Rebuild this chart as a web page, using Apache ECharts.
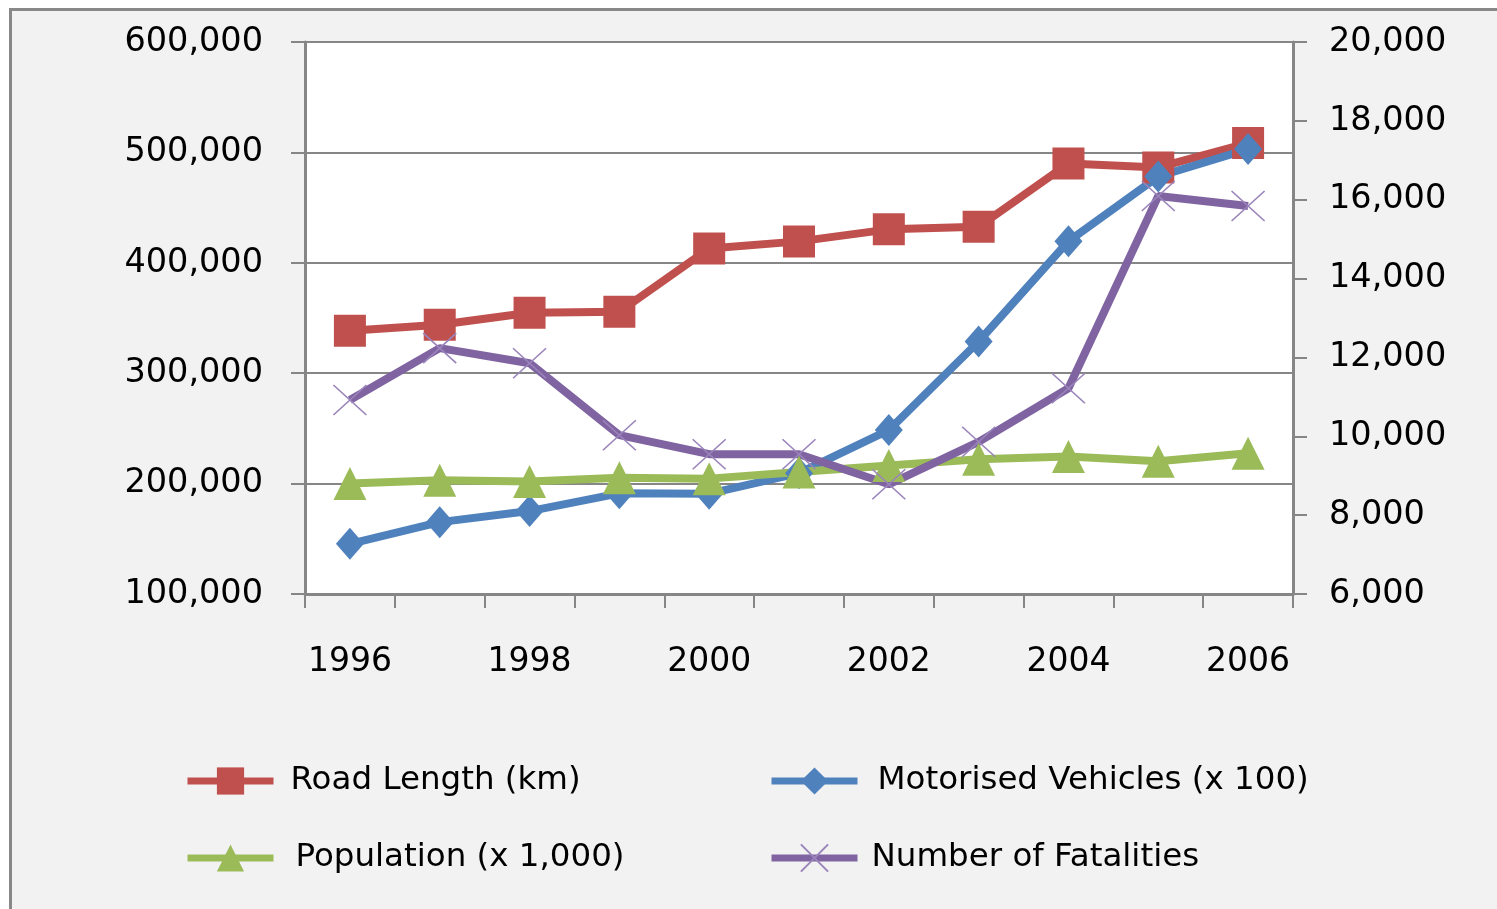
<!DOCTYPE html>
<html>
<head>
<meta charset="utf-8">
<script src="https://cdn.jsdelivr.net/npm/echarts@6/dist/echarts.min.js"></script>
<style>
html,body{margin:0;padding:0;background:#ffffff;}
#chart{width:1497px;height:909px;}
</style>
</head>
<body>
<div id="chart"></div>
<script>
const years = ['1996','1997','1998','1999','2000','2001','2002','2003','2004','2005','2006'];
const roadLength = [338500, 343900, 354800, 355700, 413000, 419400, 430300, 432700, 490000, 486400, 508500];
const motorisedVehicles = [145500, 165100, 175100, 191200, 190900, 209400, 248500, 328700, 419600, 478200, 503000];
const population = [200000, 203000, 202000, 205400, 204500, 210500, 216400, 222100, 224500, 220300, 227500];
const fatalities = [10920, 12236, 11854, 10029, 9546, 9546, 8782, 9859, 11218, 16095, 15840];
const seriesNames = ['Road Length (km)', 'Motorised Vehicles (x 100)', 'Population (x 1,000)', 'Number of Fatalities'];

const FONT = 'DejaVu Sans';
const AXIS = '#868686';
const xSymbol = 'path://M0,0L10,10M10,0L0,10';

const chart = echarts.init(document.getElementById('chart'), null, {renderer: 'canvas'});

function legendAt(name, left, top, padLeft) {
  return {
    data: [name],
    left: left, top: top, padding: 0,
    orient: 'horizontal',
    itemWidth: 86, itemHeight: 34,
    selectedMode: false,
    lineStyle: {width: 7},
    textStyle: {fontFamily: FONT, fontSize: 32.5, color: '#000', lineHeight: 34, padding: [0, 0, 0, padLeft]}
  };
}

chart.setOption({
  animation: false,
  backgroundColor: '#ffffff',
  graphic: [{
    type: 'rect', z: -10, silent: true,
    shape: {x: 10.5, y: 9.5, width: 1600, height: 1000},
    style: {fill: '#f2f2f2', stroke: '#888888', lineWidth: 3}
  }],
  grid: {
    left: 305, right: 204, top: 42, bottom: 315,
    show: true, backgroundColor: '#ffffff', borderWidth: 0
  },
  legend: [
    legendAt(seriesNames[0], 184, 764, 12),
    legendAt(seriesNames[1], 768, 764, 15),
    legendAt(seriesNames[2], 184, 841, 17),
    legendAt(seriesNames[3], 768, 841, 9)
  ],
  xAxis: {
    type: 'category',
    data: years,
    boundaryGap: true,
    axisLine: {show: true, lineStyle: {color: AXIS, width: 3}},
    axisTick: {show: true, interval: 0, length: 14, lineStyle: {color: AXIS, width: 2}},
    axisLabel: {interval: 1, margin: 52, fontFamily: FONT, fontSize: 33, color: '#000'},
    splitLine: {show: false}
  },
  yAxis: [{
    type: 'value',
    position: 'left',
    min: 100000, max: 600000, interval: 100000,
    axisLine: {show: true, lineStyle: {color: AXIS, width: 3}},
    axisTick: {show: true, length: 14, lineStyle: {color: AXIS, width: 2}},
    axisLabel: {margin: 42, fontFamily: FONT, fontSize: 33.5, color: '#000',
      formatter: v => v.toLocaleString('en-US')},
    splitLine: {show: true, lineStyle: {color: AXIS, width: 2}}
  }, {
    type: 'value',
    position: 'right',
    min: 6000, max: 20000, interval: 2000,
    axisLine: {show: true, lineStyle: {color: AXIS, width: 3}},
    axisTick: {show: true, length: 14, lineStyle: {color: AXIS, width: 2}},
    axisLabel: {margin: 36, fontFamily: FONT, fontSize: 33.5, color: '#000',
      formatter: v => v.toLocaleString('en-US')},
    splitLine: {show: false}
  }],
  series: [{
    name: seriesNames[0], type: 'line', yAxisIndex: 0, data: roadLength,
    symbol: 'rect', symbolSize: 32,
    lineStyle: {color: '#C0504D', width: 8},
    itemStyle: {color: '#C0504D'}
  }, {
    name: seriesNames[1], type: 'line', yAxisIndex: 0, data: motorisedVehicles,
    symbol: 'diamond', symbolSize: [28, 32],
    lineStyle: {color: '#4F81BD', width: 8},
    itemStyle: {color: '#4F81BD'}
  }, {
    name: seriesNames[2], type: 'line', yAxisIndex: 0, data: population,
    symbol: 'triangle', symbolSize: 33,
    lineStyle: {color: '#9BBB59', width: 8},
    itemStyle: {color: '#9BBB59'}
  }, {
    name: seriesNames[3], type: 'line', yAxisIndex: 1, data: fatalities,
    symbol: xSymbol, symbolSize: [33, 30],
    lineStyle: {color: '#8064A2', width: 8},
    itemStyle: {color: 'rgba(0,0,0,0)', borderColor: '#9a84bb', borderWidth: 1.5}
  }]
});
</script>
</body>
</html>
